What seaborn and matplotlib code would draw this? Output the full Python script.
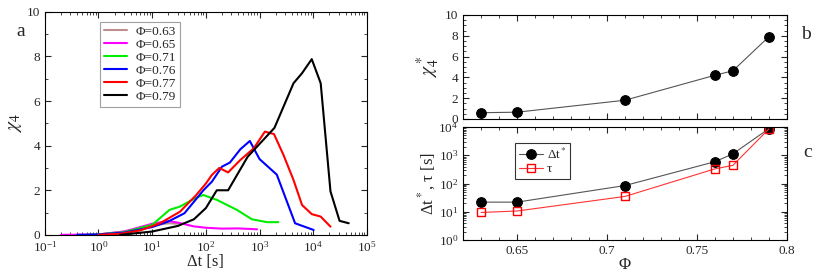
import numpy as np
import pandas as pd
import seaborn as sns
import matplotlib.pyplot as plt
from matplotlib.ticker import LogLocator, MultipleLocator, NullFormatter

# panel a: chi_4(dt) for each packing fraction
dt_063 = [1, 3, 10, 20, 30]
chi_063 = [0.02, 0.15, 0.42, 0.52, 0.5]
dt_065 = [0.2, 1, 3, 6, 10, 20, 30, 60, 100, 200, 400, 900]
chi_065 = [0.0, 0.02, 0.15, 0.35, 0.5, 0.62, 0.55, 0.38, 0.32, 0.28, 0.29, 0.25]
dt_071 = [0.6, 1, 3, 10, 21, 33, 63, 89, 160, 380, 720, 1380, 2240]
chi_071 = [0.0, 0.02, 0.12, 0.45, 1.12, 1.27, 1.64, 1.79, 1.57, 1.12, 0.7, 0.57, 0.57]
dt_076 = [0.4, 1, 3, 10, 20, 40, 90, 130, 200, 280, 440, 660, 1000, 2100, 4600, 10200]
chi_076 = [0.0, 0.02, 0.1, 0.35, 0.6, 0.97, 2.0, 2.39, 3.06, 3.24, 3.84, 4.21, 3.4, 2.7, 0.52, 0.22]
dt_077 = [1, 2.5, 6, 14, 33, 67, 100, 130, 178, 260, 440, 780, 1260, 1860, 2800, 4300, 6200,
          9400, 13800, 21000]
chi_077 = [0.0, 0.05, 0.2, 0.52, 1.04, 1.8, 2.3, 2.69, 3.0, 2.8, 3.36, 3.88, 4.63, 4.52, 3.58,
           2.46, 1.34, 0.93, 0.82, 0.37]
dt_079 = [2.5, 10, 30, 60, 100, 160, 260, 600, 1900, 4300, 6200, 9400, 13800, 21000, 31000, 46000]
chi_079 = [0.0, 0.15, 0.4, 0.7, 1.2, 2.0, 2.0, 3.5, 4.8, 6.8, 7.25, 7.88, 6.8, 1.95, 0.63, 0.52]

phi_labels = ['Φ=0.63', 'Φ=0.65', 'Φ=0.71', 'Φ=0.76', 'Φ=0.77', 'Φ=0.79']
colors = ['#bc8f8f', '#ff00ff', '#00ee00', '#0000ff', '#ff0000', '#000000']

# panels b and c
phi = [0.63, 0.65, 0.71, 0.76, 0.77, 0.79]
chi4_star = [0.6, 0.65, 1.8, 4.2, 4.63, 7.9]
dt_star = [22, 22, 85, 590, 1120, 8700]
tau = [9.5, 10.7, 35, 330, 440, 8500]

frames = []
for lab, x, y in zip(phi_labels,
                     [dt_063, dt_065, dt_071, dt_076, dt_077, dt_079],
                     [chi_063, chi_065, chi_071, chi_076, chi_077, chi_079]):
    frames.append(pd.DataFrame({'dt': x, 'chi': y, 'phi': lab}))
df_a = pd.concat(frames, ignore_index=True)

sns.set_style('ticks')
plt.rcParams['font.family'] = ['Liberation Serif', 'DejaVu Serif']
plt.rcParams['mathtext.fontset'] = 'stix'
plt.rcParams['xtick.direction'] = 'in'
plt.rcParams['ytick.direction'] = 'in'
plt.rcParams['xtick.top'] = True
plt.rcParams['ytick.right'] = True

fig = plt.figure(figsize=(8.3, 2.76), dpi=100)
ax_a = fig.add_axes([0.054, 0.149, 0.388, 0.808])
ax_b = fig.add_axes([0.558, 0.569, 0.390, 0.377])
ax_c = fig.add_axes([0.558, 0.130, 0.390, 0.410])

# ---- panel a
sns.lineplot(data=df_a, x='dt', y='chi', hue='phi', palette=colors, sort=False,
             estimator=None, linewidth=1.5, ax=ax_a)
ax_a.set_xscale('log')
ax_a.set_xlim(0.1, 1e5)
ax_a.set_ylim(0, 10)
ax_a.xaxis.set_major_locator(LogLocator(base=10, numticks=10))
ax_a.xaxis.set_minor_locator(LogLocator(base=10, subs=np.arange(2, 10), numticks=20))
ax_a.xaxis.set_minor_formatter(NullFormatter())
ax_a.yaxis.set_major_locator(MultipleLocator(2))
ax_a.yaxis.set_minor_locator(MultipleLocator(1))
ax_a.tick_params(labelsize=9.5, length=4)
ax_a.tick_params(which='minor', length=2)
ax_a.set_xlabel('Δt [s]', fontsize=12, labelpad=0)
ax_a.set_ylabel(r'$\chi_4$', fontsize=14, labelpad=2)
leg = ax_a.legend(loc='upper left', bbox_to_anchor=(0.17, 0.955), fontsize=9.5,
                  frameon=True, fancybox=False, handlelength=1.8, handletextpad=0.6,
                  labelspacing=0.05, borderpad=0.3, borderaxespad=0)
leg.get_frame().set_edgecolor('#888888')
leg.get_frame().set_linewidth(0.8)
fig.text(0.02, 0.87, 'a', fontsize=14)

# ---- panel b
sns.lineplot(x=phi, y=chi4_star, color='#555555', linewidth=0.8, marker='o',
             markersize=7, markerfacecolor='black', markeredgecolor='black', ax=ax_b)
ax_b.set_xlim(0.62, 0.8)
ax_b.set_ylim(0, 10)
ax_b.xaxis.set_major_locator(MultipleLocator(0.05))
ax_b.xaxis.set_minor_locator(MultipleLocator(0.01))
ax_b.yaxis.set_major_locator(MultipleLocator(2))
ax_b.yaxis.set_minor_locator(MultipleLocator(0.5))
ax_b.tick_params(labelbottom=False, labelsize=9.5, length=4)
ax_b.tick_params(which='minor', length=2)
ax_b.set_ylabel(r'$\chi_4^*$', fontsize=14, labelpad=2)
fig.text(0.965, 0.86, 'b', fontsize=14)

# ---- panel c
sns.lineplot(x=phi, y=dt_star, color='#555555', linewidth=0.8, marker='o',
             markersize=7, markerfacecolor='black', markeredgecolor='black',
             label=r'Δt$^*$', ax=ax_c)
sns.lineplot(x=phi, y=tau, color='#ff3333', linewidth=0.8, marker='s',
             markersize=6, markerfacecolor='none', markeredgecolor='red',
             markeredgewidth=1.0, label='τ', ax=ax_c)
ax_c.set_yscale('log')
ax_c.set_xlim(0.62, 0.8)
ax_c.set_ylim(1, 1e4)
ax_c.xaxis.set_major_locator(MultipleLocator(0.05))
ax_c.xaxis.set_minor_locator(MultipleLocator(0.01))
ax_c.xaxis.set_major_formatter(plt.FuncFormatter(lambda v, p: f'{v:g}'))
ax_c.yaxis.set_major_locator(LogLocator(base=10, numticks=10))
ax_c.yaxis.set_minor_locator(LogLocator(base=10, subs=np.arange(2, 10), numticks=20))
ax_c.yaxis.set_minor_formatter(NullFormatter())
ax_c.tick_params(labelsize=9.5, length=4)
ax_c.tick_params(which='minor', length=2)
ax_c.set_xlabel('Φ', fontsize=12, labelpad=0)
ax_c.set_ylabel(r'Δt$^*$, τ [s]', fontsize=12, labelpad=0)
leg_c = ax_c.legend(loc='upper left', bbox_to_anchor=(0.16, 0.86), fontsize=9.5,
                    frameon=True, fancybox=False, handlelength=1.8, handletextpad=0.3,
                    labelspacing=0.1, borderpad=0.3, borderaxespad=0)
leg_c.get_frame().set_edgecolor('black')
leg_c.get_frame().set_linewidth(0.8)
fig.text(0.968, 0.43, 'c', fontsize=14)

for ax in (ax_a, ax_b, ax_c):
    for s in ax.spines.values():
        s.set_linewidth(0.8)
        s.set_color('black')

fig.savefig('out.png', dpi=100)
